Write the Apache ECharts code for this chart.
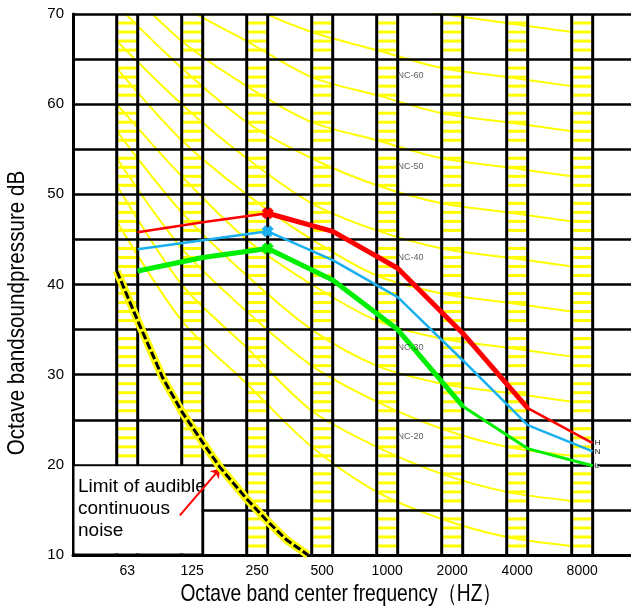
<!DOCTYPE html>
<html>
<head>
<meta charset="utf-8">
<script src="https://cdn.jsdelivr.net/npm/echarts@6/dist/echarts.min.js"></script>
<style>
html, body { margin: 0; padding: 0; background: #fff; }
#chart { width: 631px; height: 614px; }
</style>
</head>
<body>
<div id="chart"></div>
<script>
// octave bands (x axis categories)
const bands = ['63', '125', '250', '500', '1000', '2000', '4000', '8000']

// NC curves, dB per octave band
const ncNames = ['NC-15', 'NC-20', 'NC-25', 'NC-30', 'NC-35', 'NC-40', 'NC-45', 'NC-50', 'NC-55', 'NC-60', 'NC-65', 'NC-70']
const nc15 = [47, 36, 29, 22, 17, 14, 12, 11]
const nc20 = [51, 40, 33, 26, 22, 19, 17, 16]
const nc25 = [54, 44, 37, 31, 27, 24, 22, 21]
const nc30 = [57, 48, 41, 35, 31, 29, 28, 27]
const nc35 = [60, 52, 45, 40, 36, 34, 33, 32]
const nc40 = [64, 56, 50, 45, 41, 39, 38, 37]
const nc45 = [67, 60, 54, 49, 46, 44, 43, 42]
const nc50 = [71, 64, 58, 54, 51, 49, 48, 47]
const nc55 = [74, 67, 62, 58, 56, 54, 53, 52]
const nc60 = [77, 71, 67, 63, 61, 59, 58, 57]
const nc65 = [80, 75, 71, 68, 66, 64, 63, 62]
const nc70 = [83, 79, 75, 72, 71, 70, 69, 68]
const ncCurves = [nc15, nc20, nc25, nc30, nc35, nc40, nc45, nc50, nc55, nc60, nc65, nc70]

// labelled NC curves (text + dB where the label sits)
const ncLabelText = ['NC-60', 'NC-50', 'NC-40', 'NC-30', 'NC-20']
const ncLabelDb = [63.2, 53.1, 43.0, 33.0, 23.1]

// measured spectra
const levelNames = ['H', 'N', 'L']
const levelH = [45.8, 46.9, 47.9, 45.9, 41.8, 34.6, 26.3, 22.4]
const levelN = [43.9, 44.9, 45.9, 42.7, 38.6, 31.6, 24.4, 21.5]
const levelL = [41.5, 43.0, 44.0, 40.5, 35.0, 26.5, 21.8, 19.9]

// limit of audible continuous noise (x in octaves above 63 Hz)
const limitOct = [-0.16, 0.16, 0.55, 0.84, 1.16, 1.42, 1.84, 2.15, 2.45, 2.78]
const limitDb = [41.5, 36.0, 29.6, 25.9, 22.5, 19.8, 16.2, 13.8, 11.7, 10.0]

// layout
const HW = 0.1615          // half width of a band strip, in octaves
const X_MIN = -0.834, X_MAX = 7.751
const FONT = '"Liberation Sans Narrow", "Liberation Sans", Arial, sans-serif'
const cross = 'path://M3,0L5,2L7,0L10,3L8,5L10,7L7,10L5,8L3,10L0,7L2,5L0,3Z'

const pts = (arr, keep) => arr.map((v, i) => [i + HW, keep && !keep(i) ? null : v])

function levelData(arr) {
  return arr.map((v, i) => ({
    value: [i + HW, v],
    symbol: i === 2 ? cross : 'none',
    symbolSize: 12
  }))
}

const chart = echarts.init(document.getElementById('chart'))

const series = []

ncCurves.forEach((c, k) => {
  series.push({
    name: ncNames[k], type: 'line', z: -1, silent: true, smooth: 0.3, showSymbol: false,
    data: c.map((v, i) => [i - HW, v]),
    lineStyle: { color: '#ffff00', width: 2 }
  })
})

// band strips: yellow hatching + black borders
series.push({
  type: 'custom', z: 3, silent: true,
  data: bands.map((b, i) => [i]),
  renderItem: (params, api) => {
    const i = api.value(0)
    const xl = api.coord([i - HW, 10])[0]
    const xr = api.coord([i + HW, 10])[0]
    const yt = api.coord([0, 70])[1]
    const yb = api.coord([0, 10])[1]
    const ch = []
    for (let d = 11; d < 70; d++) {
      if (d % 5 === 0) continue
      const y = api.coord([0, d])[1]
      ch.push({ type: 'line', shape: { x1: xl, y1: y, x2: xr, y2: y }, style: { stroke: '#ffff00', lineWidth: 3 } })
    }
    ch.push({ type: 'line', shape: { x1: xl, y1: yt, x2: xl, y2: yb }, style: { stroke: '#000', lineWidth: 3 } })
    ch.push({ type: 'line', shape: { x1: xr, y1: yt, x2: xr, y2: yb }, style: { stroke: '#000', lineWidth: 3 } })
    return { type: 'group', children: ch }
  }
})

// white note box
series.push({
  type: 'custom', z: 4, silent: true,
  data: [[0]],
  renderItem: (params, api) => {
    const p0 = api.coord([X_MIN, 20])
    const p1 = api.coord([1 + HW, 10])
    return {
      type: 'group',
      children: [
        { type: 'rect', shape: { x: p0[0] + 1.5, y: p0[1] + 1.5, width: p1[0] - p0[0] - 3, height: p1[1] - p0[1] - 3 }, style: { fill: '#fff' } },
        { type: 'line', shape: { x1: p0[0], y1: p1[1], x2: p1[0], y2: p1[1] }, style: { stroke: '#000', lineWidth: 3 } },
        { type: 'text', style: { x: p0[0] + 5, y: p0[1] + 11, text: 'Limit of audible\ncontinuous\nnoise', font: '19px ' + FONT, fill: '#000', lineHeight: 22 } }
      ]
    }
  }
})

// limit curve
series.push({
  type: 'line', z: 5, silent: true, showSymbol: false,
  data: limitOct.map((x, i) => [x, limitDb[i]]),
  lineStyle: { color: '#ffff00', width: 8 }
})
series.push({
  type: 'line', z: 6, silent: true, showSymbol: false,
  data: limitOct.map((x, i) => [x, limitDb[i]]),
  lineStyle: { color: '#000', width: 3, type: [8, 3] }
})

// measured spectra
series.push({ name: 'H', type: 'line', z: 7, data: levelData(levelH), itemStyle: { color: '#ff0000' }, lineStyle: { color: '#ff0000', width: 2.5 } })
series.push({ type: 'line', z: 7, showSymbol: false, data: pts(levelH, i => i >= 2 && i <= 6), lineStyle: { color: '#ff0000', width: 5 } })
series.push({ name: 'N', type: 'line', z: 7, data: levelData(levelN), itemStyle: { color: '#1ab0ef' }, lineStyle: { color: '#1ab0ef', width: 2.5 } })
series.push({ name: 'L', type: 'line', z: 7, data: levelData(levelL), itemStyle: { color: '#00ee00' }, lineStyle: { color: '#00ee00', width: 3 } })
series.push({ type: 'line', z: 7, showSymbol: false, data: pts(levelL, i => i <= 5), lineStyle: { color: '#00ee00', width: 5 } })

// H / N / L tags at the 8000 Hz end
const lastIdx = bands.length - 1
series.push({
  type: 'custom', z: 9, silent: true,
  data: [levelH, levelN, levelL].map((arr, k) => [lastIdx + HW, arr[lastIdx], k]),
  renderItem: (params, api) => {
    const p = api.coord([api.value(0), api.value(1)])
    return {
      type: 'text',
      style: { x: p[0] + 2, y: p[1], text: levelNames[api.value(2)], font: '8px ' + FONT,
        fill: '#111', stroke: '#fff', lineWidth: 2, verticalAlign: 'middle' }
    }
  }
})

// NC labels + arrow
series.push({
  type: 'scatter', z: 8, silent: true, symbolSize: 0,
  data: ncLabelDb.map((d, i) => ({ value: [4.36, d], label: { formatter: ncLabelText[i] } })),
  label: { show: true, position: 'inside', fontSize: 9, color: '#333', fontFamily: FONT },
  markLine: {
    silent: true, symbol: ['none', 'arrow'], symbolSize: 9,
    lineStyle: { color: '#ff0000', width: 2, type: 'solid' },
    label: { show: false },
    data: [[{ coord: [0.81, 14.4] }, { coord: [1.43, 19.6] }]]
  }
})

chart.setOption({
  animation: false,
  grid: { left: 73, right: 0, top: 14, bottom: 59 },
  xAxis: {
    type: 'value', min: X_MIN, max: X_MAX,
    axisLine: { onZero: false, lineStyle: { color: '#000', width: 3 } },
    axisTick: { show: false },
    splitLine: { show: false },
    axisLabel: {
      customValues: bands.map((b, i) => i),
      formatter: v => bands[Math.round(v)] || '',
      color: '#000', fontSize: 14, fontFamily: FONT, margin: 9
    }
  },
  yAxis: {
    type: 'value', min: 10, max: 70, interval: 5,
    axisLine: { show: true, onZero: false, lineStyle: { color: '#000', width: 3 } },
    axisTick: { show: false },
    splitLine: { lineStyle: { color: '#000', width: 2.5 } },
    axisLabel: { formatter: v => (v % 10 === 0 ? v : ''), color: '#000', fontSize: 15, fontFamily: FONT, margin: 9 }
  },
  graphic: [
    { type: 'text', x: 17, y: 313, rotation: Math.PI / 2, scaleX: 0.86,
      style: { text: 'Octave bandsoundpressure dB', font: '24px ' + FONT, fill: '#000', align: 'center', verticalAlign: 'middle' } },
    { type: 'text', x: 341, y: 594, scaleX: 0.8,
      style: { text: 'Octave band center frequency（HZ）', font: '24px ' + FONT, fill: '#000', align: 'center', verticalAlign: 'middle' } }
  ],
  series
})

window.addEventListener('resize', () => chart.resize())
</script>
</body>
</html>
